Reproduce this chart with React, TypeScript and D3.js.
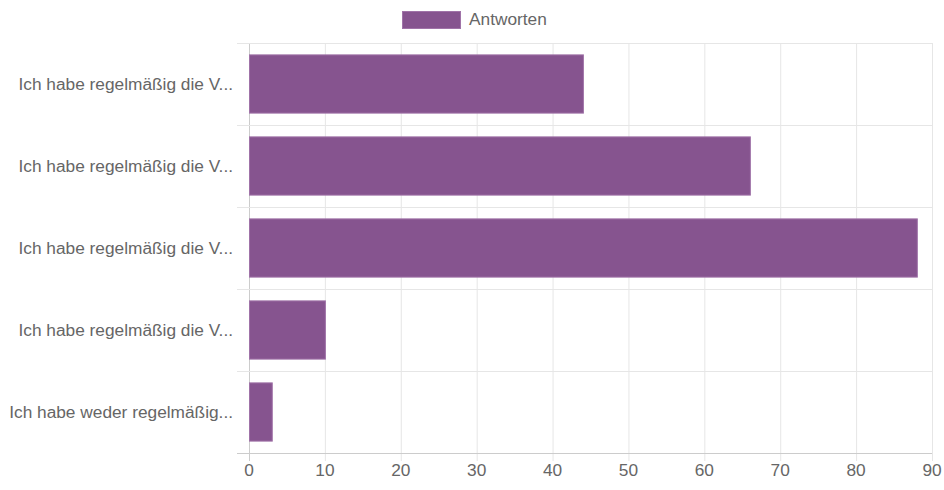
import React from "react";
import * as d3 from "d3";

const categories = [
  "Ich habe regelmäßig die V...",
  "Ich habe regelmäßig die V...",
  "Ich habe regelmäßig die V...",
  "Ich habe regelmäßig die V...",
  "Ich habe weder regelmäßig...",
];
const values = [44, 66, 88, 10, 3];
const xTicks = [0, 10, 20, 30, 40, 50, 60, 70, 80, 90];
const seriesName = "Antworten";

const W = 944;
const H = 490;
const left = 249;
const right = 932;
const top = 43;
const bottom = 453;
const barColor = "rgba(134,84,143,1)";
const border = "rgba(160,115,168,1)";
const font = "'Liberation Sans', Arial, sans-serif";
const fs = 17.3;

export default function App() {
  const x = d3.scaleLinear().domain([0, 90]).range([left, right]);
  const y = d3.scaleBand<number>().domain(d3.range(categories.length)).range([top, bottom]);
  const bh = y.bandwidth() * 0.71;
  return (
    <svg width={W} height={H} style={{ position: "absolute", left: 0, top: 0 }}>
      <rect x={0} y={0} width={W} height={H} fill="#fff" />
      {/* legend */}
      <rect x={402.5} y={11.5} width={58} height={17} fill={barColor} stroke={border} strokeWidth={1} />
      <text x={469} y={19} dominantBaseline="central" fontFamily={font} fontSize={fs} fill="#666">{seriesName}</text>
      {/* vertical grid */}
      {xTicks.map((t) => (
        <line key={"v" + t} x1={x(t) + 0.5} x2={x(t) + 0.5} y1={top} y2={bottom + 8} stroke={t === 0 ? "#ccc" : "#e6e6e6"} strokeWidth={1} />
      ))}
      {/* horizontal grid (category boundaries) */}
      {d3.range(categories.length + 1).map((i) => {
        const yy = Math.round(top + i * y.step()) + 0.5;
        return (
          <line key={"h" + i} x1={left - 12} x2={right} y1={yy} y2={yy} stroke={i === categories.length ? "#ccc" : "#e6e6e6"} strokeWidth={1} />
        );
      })}
      {/* bars */}
      {values.map((v, i) => {
        const cy = (y(i) as number) + y.bandwidth() / 2;
        return (
          <rect key={"b" + i} x={x(0) + 0.5} y={cy - bh / 2} width={x(v) - x(0)} height={bh} fill={barColor} stroke={border} strokeWidth={1} />
        );
      })}
      {/* y labels */}
      {categories.map((c, i) => (
        <text key={"c" + i} x={233} y={(y(i) as number) + y.bandwidth() / 2} textAnchor="end" dominantBaseline="central" fontFamily={font} fontSize={fs} fill="#666">{c}</text>
      ))}
      {/* x tick labels */}
      {xTicks.map((t) => (
        <text key={"t" + t} x={x(t)} y={470} textAnchor="middle" dominantBaseline="central" fontFamily={font} fontSize={fs} fill="#666">{t}</text>
      ))}
    </svg>
  );
}
